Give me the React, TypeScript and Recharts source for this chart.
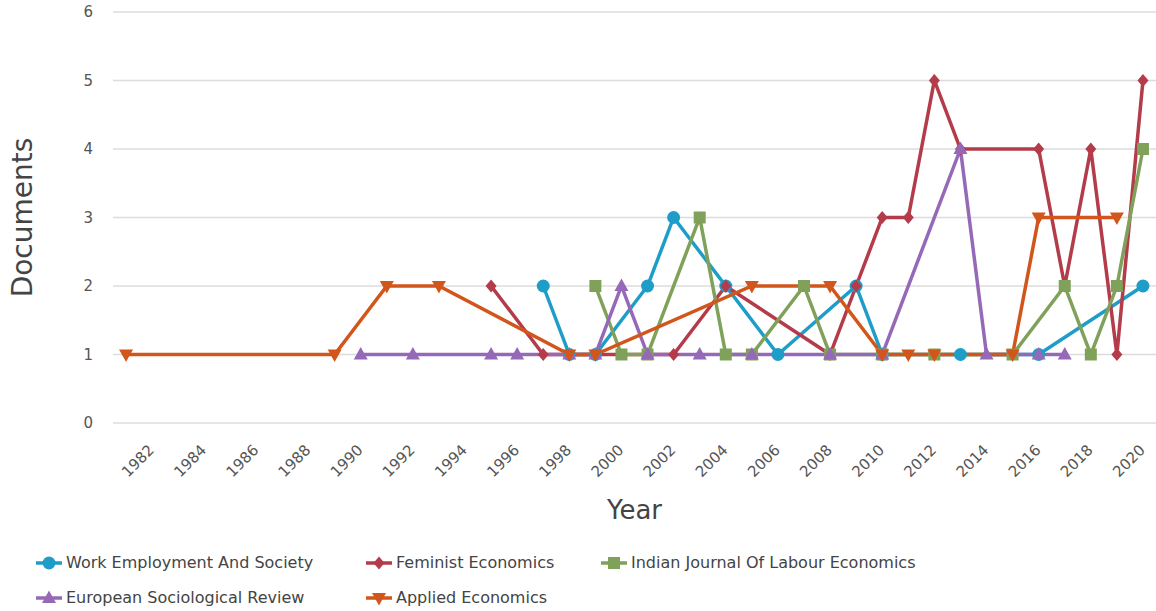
import React from 'react';
import { LineChart, Line, XAxis, YAxis, CartesianGrid, Label } from 'recharts';

const yearTicks = [1982, 1984, 1986, 1988, 1990, 1992, 1994, 1996, 1998, 2000, 2002, 2004, 2006, 2008, 2010, 2012, 2014, 2016, 2018, 2020];
const docTicks = [0, 1, 2, 3, 4, 5, 6];

const wesYears = [1997, 1998, 1999, 2001, 2002, 2004, 2006, 2009, 2010, 2013, 2016, 2020];
const wesValues = [2, 1, 1, 2, 3, 2, 1, 2, 1, 1, 1, 2];

const feYears = [1995, 1997, 2002, 2004, 2008, 2009, 2010, 2011, 2012, 2013, 2016, 2017, 2018, 2019, 2020];
const feValues = [2, 1, 1, 2, 1, 2, 3, 3, 5, 4, 4, 2, 4, 1, 5];

const ijleYears = [1999, 2000, 2001, 2003, 2004, 2005, 2007, 2008, 2010, 2012, 2015, 2017, 2018, 2019, 2020];
const ijleValues = [2, 1, 1, 3, 1, 1, 2, 1, 1, 1, 1, 2, 1, 2, 4];

const esrYears = [1990, 1992, 1995, 1996, 1998, 1999, 2000, 2001, 2003, 2005, 2008, 2010, 2013, 2014, 2016, 2017];
const esrValues = [1, 1, 1, 1, 1, 1, 2, 1, 1, 1, 1, 1, 4, 1, 1, 1];

const aeYears = [1981, 1989, 1991, 1993, 1998, 1999, 2005, 2008, 2010, 2011, 2012, 2015, 2016, 2019];
const aeValues = [1, 1, 2, 2, 1, 1, 2, 2, 1, 1, 1, 1, 3, 3];

const zip = (years: number[], values: number[]) => years.map((year, i) => ({ year, v: values[i] }));

const series = [
  { name: 'Work Employment And Society', color: '#1f9dc9', shape: 'circle', data: zip(wesYears, wesValues) },
  { name: 'Feminist Economics', color: '#b43c4a', shape: 'diamond', data: zip(feYears, feValues) },
  { name: 'Indian Journal Of Labour Economics', color: '#7fa15a', shape: 'square', data: zip(ijleYears, ijleValues) },
  { name: 'European Sociological Review', color: '#9569b8', shape: 'triangle', data: zip(esrYears, esrValues) },
  { name: 'Applied Economics', color: '#d2561b', shape: 'down', data: zip(aeYears, aeValues) },
];

const FONT = '"DejaVu Sans", sans-serif';

function Marker({ cx, cy, shape, color }: { cx: number; cy: number; shape: string; color: string }) {
  if (cx == null || cy == null) return null;
  if (shape === 'circle') return <circle cx={cx} cy={cy} r={6.5} fill={color} />;
  if (shape === 'square') return <rect x={cx - 6} y={cy - 6} width={12} height={12} fill={color} />;
  let pts = '';
  if (shape === 'diamond') pts = `${cx},${cy - 6.5} ${cx + 5.5},${cy} ${cx},${cy + 6.5} ${cx - 5.5},${cy}`;
  if (shape === 'triangle') pts = `${cx},${cy - 7.5} ${cx + 7},${cy + 5} ${cx - 7},${cy + 5}`;
  if (shape === 'down') pts = `${cx - 7},${cy - 5} ${cx + 7},${cy - 5} ${cx},${cy + 7.5}`;
  return <polygon points={pts} fill={color} />;
}

const YearTick = (props: any) => {
  const { x, y, payload } = props;
  const tx = x + 3;
  const ty = y + 20;
  return (
    <text x={tx} y={ty} transform={`rotate(-45, ${tx}, ${ty})`} textAnchor="end" fill="#555" fontSize={15} fontFamily={FONT}>
      {payload.value}
    </text>
  );
};

const legendCols = [35, 365, 600];

function LegendIcon({ shape, color }: { shape: string; color: string }) {
  return (
    <svg width={28} height={16} style={{ display: 'block' }}>
      <line x1={1} y1={8} x2={27} y2={8} stroke={color} strokeWidth={3.5} />
      <Marker cx={14} cy={8} shape={shape} color={color} />
    </svg>
  );
}

export default function App() {
  return (
    <div style={{ position: 'absolute', left: 0, top: 0, width: 1156, height: 611, background: '#fff', fontFamily: FONT }}>
      <LineChart width={1156} height={540} margin={{ top: 12, right: 0, left: 0, bottom: 0 }}>
        <CartesianGrid vertical={false} stroke="#dcdcdc" strokeWidth={1.5} />
        <XAxis
          dataKey="year"
          type="number"
          domain={[1980.5, 2020.5]}
          ticks={yearTicks}
          allowDuplicatedCategory={false}
          interval={0}
          axisLine={false}
          tickLine={false}
          height={117}
          tick={<YearTick />}
        >
          <Label
            content={(p: any) => {
              const vb = p.viewBox;
              return (
                <text x={vb.x + vb.width / 2} y={510} textAnchor="middle" dominantBaseline="central" fill="#444" fontSize={26} fontFamily={FONT}>
                  Year
                </text>
              );
            }}
          />
        </XAxis>
        <YAxis
          type="number"
          domain={[0, 6]}
          ticks={docTicks}
          width={113}
          axisLine={false}
          tickLine={false}
          tickMargin={14}
          tick={{ fill: '#555', fontSize: 15, fontFamily: FONT }}
        >
          <Label
            content={(p: any) => {
              const vb = p.viewBox;
              const cy = vb.y + vb.height / 2;
              return (
                <text x={22} y={cy} transform={`rotate(-90, 22, ${cy})`} textAnchor="middle" dominantBaseline="central" fill="#444" fontSize={28} fontFamily={FONT}>
                  Documents
                </text>
              );
            }}
          />
        </YAxis>
        {series.map((s) => (
          <Line
            key={s.name}
            data={s.data}
            dataKey="v"
            name={s.name}
            type="linear"
            stroke={s.color}
            strokeWidth={3.5}
            isAnimationActive={false}
            dot={(p: any) => <Marker key={`${s.shape}-${p.index}`} cx={p.cx} cy={p.cy} shape={s.shape} color={s.color} />}
            activeDot={false}
          />
        ))}
      </LineChart>
      {series.map((s, i) => (
        <div
          key={s.name}
          style={{
            position: 'absolute',
            left: legendCols[i % 3],
            top: i < 3 ? 553 : 588,
            display: 'flex',
            alignItems: 'center',
            gap: 3,
            fontSize: 16,
            color: '#444',
            whiteSpace: 'nowrap',
            lineHeight: '20px',
          }}
        >
          <LegendIcon shape={s.shape} color={s.color} />
          <span>{s.name}</span>
        </div>
      ))}
    </div>
  );
}
